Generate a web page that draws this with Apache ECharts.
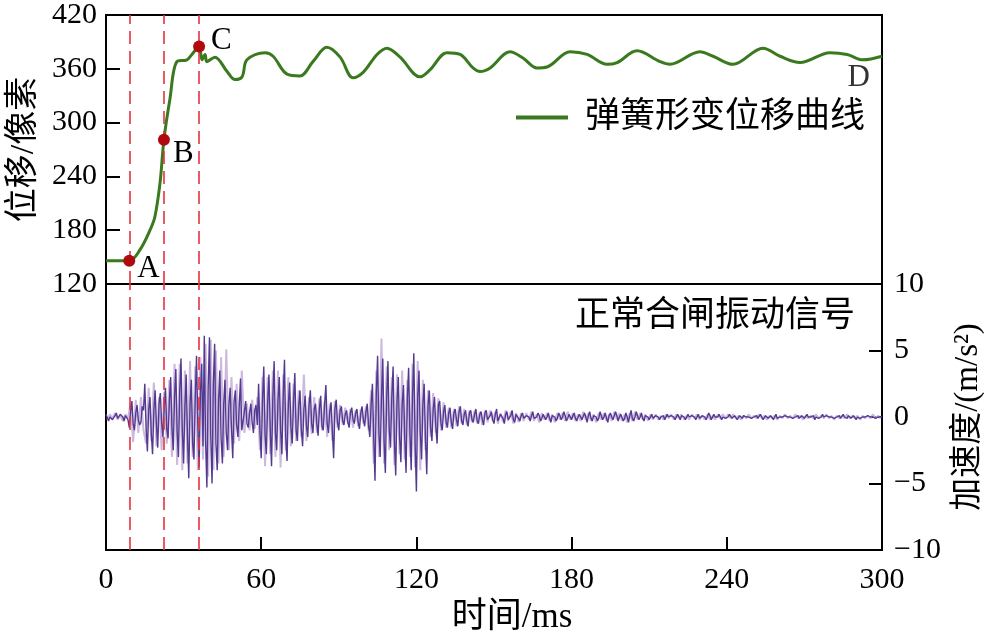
<!DOCTYPE html>
<html>
<head>
<meta charset="utf-8">
<script src="https://cdn.jsdelivr.net/npm/echarts@6/dist/echarts.min.js"></script>
<style>
html,body{margin:0;padding:0;background:#fff;}
#chart{width:988px;height:638px;}
</style>
</head>
<body>
<div id="chart"></div>
<script>
// ---- Displacement curve (top panel) ----
const dispTime = [0, 9, 13.1, 17.0, 18.9, 20.9, 22.4, 24.7, 27.4, 31.3, 33.2, 36.0, 37.1, 38.3, 39.0, 42.1, 46.8, 49.9, 52.6, 54.5,
  61.5, 64.6, 70.0, 75.0, 80.0, 85.4, 90.5, 95.5, 99.4, 104.8, 108.6, 113.7, 121.4, 125.3, 131.8, 136.9, 141.9, 144.6, 148.5,
  156.2, 161.2, 166.6, 170.5, 179.4, 186.0, 193.7, 197.6, 205.3, 214.2, 218.0, 229.6, 234.7, 242.4, 254.0, 260.6, 268.3,
  279.9, 286.5, 292.6, 300];
const dispValue = [146, 146, 158, 180, 195, 233, 281, 326, 368, 370, 376, 385, 370, 376, 368, 373, 357, 348, 351, 370,
  378, 374, 354, 352, 368, 384, 373, 350, 356, 376, 383, 373, 351, 359, 378, 376, 361, 357, 361,
  379, 372, 361, 362, 379, 376, 365, 367, 380, 368, 365, 379, 374, 365, 383, 374, 367,
  378, 376, 370, 374];

// Key points A, B, C and end label D
const markerTime = [9, 22.4, 36];
const markerValue = [146, 281, 385];
const markerLabel = ['A', 'B', 'C'];
const endLabelTime = 291;
const endLabelValue = 350;
const endLabel = 'D';

// ---- Vibration signal (bottom panel) ----
// dark trace, samples at whole milliseconds (t = 0, 1, 2, ...)
const accDarkWhole = [
  0.2,-0.3,0.1,-0.2,0.3,-0.1,0.2,-0.3,0.1,          // 0-8
  -0.8,1.2,-1.0,0.9,-0.6,0.8,                       // 9-14
  2.5,-2.6,1.5,-2.8,2.0,-2.3,1.8,-1.5,              // 15-22
  2.2,-1.6,3.0,-2.5,3.6,-3.0,4.4,-3.5,              // 23-30
  3.2,-4.6,2.8,-3.2,4.6,-3.8,4.0,                   // 31-37
  6.1,-5.3,6.0,-5.0,5.5,-4.0,3.5,-3.5,              // 38-45
  2.8,-2.5,2.2,-3.1,2.0,-1.5,2.9,                   // 46-52
  -1.0,1.2,-0.8,1.0,-1.2,0.9,                       // 53-58
  2.5,-3.1,3.8,-2.8,3.2,-3.7,4.2,                   // 59-65
  -2.5,3.0,-2.8,4.3,-3.3,2.6,-2.0,3.3,              // 66-73
  -1.8,2.0,-2.2,1.6,-1.5,2.0,-1.2,                  // 74-80
  1.0,-1.4,1.6,-1.0,2.4,-1.2,1.1,-3.1,1.3,-1.0,     // 81-90
  0.8,-0.6,0.5,-0.8,0.7,-0.5,0.6,-0.9,0.8,-0.7,1.0, // 91-101
  -1.5,2.5,-4.8,4.6,-3.0,4.4,-4.2,4.2,-2.3,         // 102-110
  3.8,-4.4,3.0,-3.4,2.4,-4.2,3.7,-4.0,4.8,          // 111-119
  -5.6,3.5,-3.2,2.5,-4.3,                           // 120-124
  2.0,-1.8,1.5,-2.0,1.2,-1.0,0.9,                   // 125-131
  -0.8,0.7,-0.9,0.6,-0.7,0.8,-0.6,0.5,-0.7,         // 132-140
  0.5,-0.4,0.6,-0.5,0.4,-0.6,0.5,-0.3,0.4,-0.5,0.6,-0.4,0.3,-0.5,0.4,-0.3,0.5,-0.4,0.3,-0.3, // 141-160
  0.3,-0.2,0.2,-0.3,0.4,-0.2,0.3,-0.3,0.2,-0.2,0.3,-0.4,0.2,-0.3,0.3,-0.2,0.4,-0.3,0.2,-0.2,
  0.3,-0.3,0.2,-0.2,0.3,-0.4,0.4,-0.3,0.2,-0.3,0.4,-0.2,0.3,-0.4,0.3,-0.2,0.4,-0.3,0.2,-0.3, // 161-200
  0.3,-0.4,0.5,-0.3,0.4,-0.2,0.3,-0.3,0.2,-0.2,0.2,-0.1,0.2,-0.2,0.1,-0.2,0.2,-0.1,0.2,-0.2,
  0.2,-0.2,0.1,-0.2,0.2,-0.1,0.1,-0.2,0.2,-0.1,0.2,-0.2,0.3,-0.2,0.2,-0.1,0.2,-0.2,0.1,-0.2, // 201-240
  0.2,-0.1,0.1,-0.2,0.1,-0.1,0.2,-0.1,0.1,-0.2,0.1,-0.1,0.2,-0.2,0.1,-0.1,0.1,-0.2,0.2,-0.1,
  0.1,-0.1,0.2,-0.1,0.1,-0.2,0.1,-0.1,0.1,-0.1,0.2,-0.1,0.1,-0.2,0.1,-0.1,0.2,-0.1,0.1,-0.1,
  0.1,-0.2,0.1,-0.1,0.2,-0.1,0.1,-0.1,0.1,-0.2,0.1,-0.1,0.1,-0.1,0.2,-0.1,0.1,-0.1,0.1,0.0  // 241-300
];
// dark trace, samples at half milliseconds (t = 0.5, 1.5, ...)
const accDarkHalf = [
  0.1,0.0,-0.2,0.1,-0.1,0.2,0.0,0.1,-0.2,           // 0.5-8.5
  0.4,-0.5,0.3,-0.2,-0.4,0.5,                       // 9.5-14.5
  -0.8,0.6,-1.2,0.5,-0.6,1.0,-0.4,0.7,              // 15.5-22.5
  -0.9,1.2,-0.8,1.5,-1.1,1.9,-1.0,0.8,              // 23.5-30.5
  -1.5,1.0,-2.0,1.4,-0.6,1.8,-2.2,                  // 31.5-37.5
  -1.8,2.2,-1.5,2.5,-2.0,1.2,-1.6,1.0,              // 38.5-45.5
  -1.2,0.9,-0.8,1.1,-0.6,0.8,-1.0,                  // 46.5-52.5
  0.4,-0.5,0.3,-0.4,0.5,-0.6,                       // 53.5-58.5
  -1.0,1.2,-1.4,1.1,-0.9,1.5,-1.2,                  // 59.5-65.5
  1.3,-1.0,1.5,-1.6,1.0,-0.8,1.2,-1.0,              // 66.5-73.5
  0.8,-0.9,0.6,-0.7,0.9,-0.5,0.6,                   // 74.5-80.5
  -0.5,0.6,-0.7,0.9,-0.5,0.4,-1.0,0.6,-0.4,0.5,     // 81.5-90.5
  -0.3,0.2,-0.4,0.3,-0.2,0.3,-0.4,0.3,-0.2,0.4,-0.6,// 91.5-101.5
  1.0,-1.6,1.8,-1.2,1.5,-1.8,1.4,-1.0,1.6,          // 102.5-110.5
  -1.8,1.2,-1.5,1.0,-1.6,1.4,-1.2,1.6,-2.0,         // 111.5-119.5
  1.5,-1.2,1.0,-1.6,0.9,                            // 120.5-124.5
  -0.8,0.6,-0.7,0.9,-0.5,0.4,-0.4,                  // 125.5-131.5
  0.3,-0.4,0.3,-0.2,0.4,-0.3,0.2,-0.3,0.3,          // 132.5-140.5
  -0.2,0.2,-0.3,0.2,-0.2,0.3,-0.2,0.1,-0.2,0.2,-0.3,0.2,-0.1,0.2,-0.2,0.1,-0.2,0.2,-0.1,0.1, // 141.5-160.5
  -0.1,0.1,0.0,0.1,-0.1,0.0,0.1,-0.1,0.1,0.0,-0.1,0.1,0.0,-0.1,0.1,0.0,0.1,-0.1,0.0,0.1,
  -0.1,0.0,0.1,-0.1,0.0,0.1,-0.1,0.1,0.0,-0.1,0.1,0.0,-0.1,0.1,0.0,-0.1,0.1,0.0,0.1,-0.1,  // 161.5-200.5
  0.0,0.1,-0.1,0.0,0.1,0.0,-0.1,0.1,0.0,0.0,-0.1,0.1,0.0,0.0,0.1,-0.1,0.0,0.1,0.0,-0.1,
  0.0,0.1,0.0,-0.1,0.0,0.1,0.0,0.0,-0.1,0.1,0.0,0.0,0.1,-0.1,0.0,0.0,0.1,0.0,-0.1,0.0,    // 201.5-240.5
  0.1,0.0,0.0,-0.1,0.0,0.1,0.0,0.0,-0.1,0.0,0.1,0.0,0.0,-0.1,0.0,0.0,0.1,0.0,-0.1,0.0,
  0.0,0.1,0.0,0.0,-0.1,0.0,0.1,0.0,0.0,-0.1,0.0,0.0,0.1,0.0,-0.1,0.0,0.0,0.1,0.0,0.0,
  -0.1,0.0,0.1,0.0,0.0,-0.1,0.0,0.0,0.1,0.0,-0.1,0.0,0.0,0.1,0.0,0.0,-0.1,0.0,0.0      // 241.5-299.5
];
// light (second) trace, samples at t = 0.5, 1.5, ...
const accLight = [
  -0.2,0.2,-0.1,0.3,-0.2,0.1,-0.3,0.2,-0.1,         // 0.5-8.5
  1.0,-1.9,1.3,-1.2,1.5,-1.0,                       // 9.5-14.5
  -2.0,2.2,-1.8,2.6,-2.2,1.5,-2.5,1.9,              // 15.5-22.5
  -2.0,2.8,-3.0,4.0,-3.6,4.0,-4.0,3.5,              // 23.5-30.5
  -3.5,4.2,-3.0,3.8,-4.0,4.5,-3.2,                  // 31.5-37.5
  5.5,-4.5,5.8,-4.0,5.0,-3.5,4.5,-3.0,              // 38.5-45.5
  5.1,-2.5,3.0,-2.0,2.5,-1.8,3.5,                   // 46.5-52.5
  -1.2,1.0,-1.0,1.3,-0.9,1.5,                       // 53.5-58.5
  -2.5,3.0,-3.7,3.0,-2.8,3.5,-3.0,                  // 59.5-65.5
  3.5,-3.8,3.2,-2.5,3.0,-2.2,2.5,-1.8,              // 66.5-73.5
  2.0,-1.5,3.2,-1.8,1.5,-1.3,1.5,                   // 74.5-80.5
  -1.2,1.4,-1.0,1.2,-1.5,1.0,-1.8,1.2,-0.8,0.9,     // 81.5-90.5
  -0.6,0.7,-0.5,0.6,-0.8,0.5,-0.7,0.6,-0.5,0.8,-1.0,// 91.5-101.5
  2.0,-3.5,3.5,-3.0,5.9,-3.5,3.8,-2.5,3.0,          // 102.5-110.5
  -3.6,3.2,-2.8,3.5,-3.2,2.8,-3.0,4.0,-3.8,         // 111.5-119.5
  4.2,-4.0,2.8,-2.5,2.0,                            // 120.5-124.5
  -1.5,1.8,-1.2,1.4,-1.0,1.1,-0.8,                  // 125.5-131.5
  0.7,-0.8,0.6,-0.7,0.8,-0.5,0.6,-0.6,0.5,          // 132.5-140.5
  -0.4,0.5,-0.5,0.4,-0.6,0.5,-0.4,0.5,-0.3,0.4,-0.5,0.3,-0.4,0.5,-0.3,0.4,-0.5,0.3,-0.4,0.3, // 141.5-160.5
  -0.3,0.3,-0.2,0.4,-0.3,0.2,-0.4,0.3,-0.2,0.3,-0.3,0.2,-0.4,0.3,-0.2,0.3,-0.3,0.4,-0.2,0.3,
  -0.3,0.2,-0.3,0.4,-0.2,0.3,-0.3,0.2,-0.4,0.3,-0.2,0.3,-0.3,0.2,-0.3,0.4,-0.2,0.3,-0.3,0.2, // 161.5-200.5
  -0.4,0.3,-0.3,0.4,-0.2,0.3,-0.2,0.2,-0.3,0.2,-0.2,0.2,-0.2,0.1,-0.2,0.2,-0.1,0.2,-0.2,0.2,
  -0.1,0.2,-0.2,0.1,-0.2,0.2,-0.1,0.2,-0.2,0.1,-0.2,0.2,-0.2,0.1,-0.2,0.2,-0.1,0.2,-0.1,0.2, // 201.5-240.5
  -0.1,0.2,-0.1,0.1,-0.2,0.1,-0.1,0.2,-0.1,0.1,-0.1,0.2,-0.1,0.1,-0.2,0.1,-0.1,0.1,-0.2,0.1,
  -0.1,0.2,-0.1,0.1,-0.1,0.2,-0.1,0.1,-0.2,0.1,-0.1,0.1,-0.1,0.2,-0.1,0.1,-0.1,0.2,-0.1,0.1,
  -0.2,0.1,-0.1,0.1,-0.1,0.2,-0.1,0.1,-0.1,0.1,-0.2,0.1,-0.1,0.1,-0.1,0.2,-0.1,0.1,-0.1   // 241.5-299.5
];

// ---- Axis ticks / texts ----
const timeTicks = { min: 0, max: 300, interval: 60 };
const dispTicks = { min: 120, max: 420, interval: 60 };
const accTicks = { min: -10, max: 10, interval: 5 };
const seriesName = '弹簧形变位移曲线';
const panelTitle = '正常合闸振动信号';
const xName = '时间/ms';
const yNameTop = '位移/像素';
const yNameBottom = '加速度/(m/s²)';

const serif = "'Liberation Serif', 'Noto Sans CJK SC', serif";

const chart = echarts.init(document.getElementById('chart'), null, { renderer: 'canvas' });

// merge whole-ms and half-ms samples of the dark trace in time order
const darkData = [];
accDarkWhole.forEach((v, i) => {
  darkData.push([i, v]);
  if (i < accDarkHalf.length) darkData.push([i + 0.5, accDarkHalf[i]]);
});
const lightData = accLight.map((v, i) => [i + 0.5, v]);
const dispData = dispTime.map((t, i) => [t, dispValue[i]]);
const labelOffsets = [[-3, 8], [-2, 14], [1, -6]];
const markerData = markerTime.map((t, i) => ({
  value: [t, markerValue[i]],
  label: { formatter: markerLabel[i], offset: labelOffsets[i] }
}));

const dashed = {
  silent: true,
  symbol: ['none', 'none'],
  label: { show: false },
  emphasis: { disabled: true },
  lineStyle: { color: '#e5323c', type: [13, 7], width: 1.6 },
  data: markerTime.map(t => ({ xAxis: t }))
};

chart.setOption({
  animation: false,
  backgroundColor: '#fff',
  grid: [
    { left: 106, right: 106, top: 15, height: 269, outerBoundsMode: 'none', containLabel: false,
      show: true, borderColor: '#000', borderWidth: 2, backgroundColor: 'transparent' },
    { left: 106, right: 106, top: 284, height: 266, outerBoundsMode: 'none', containLabel: false,
      show: true, borderColor: '#000', borderWidth: 2, backgroundColor: 'transparent' }
  ],
  title: {
    text: panelTitle,
    right: 128, top: 294,
    textStyle: { fontFamily: serif, fontSize: 35, fontWeight: 'normal', color: '#000' }
  },
  legend: {
    data: [{ name: seriesName, icon: 'rect' }],
    right: 118, top: 95,
    itemWidth: 52, itemHeight: 4,
    itemStyle: { color: '#3a7a1e' },
    textStyle: { fontFamily: serif, fontSize: 35, color: '#000', padding: [0, 0, 0, 12] }
  },
  xAxis: [
    { type: 'value', gridIndex: 0, min: timeTicks.min, max: timeTicks.max, interval: timeTicks.interval,
      axisLine: { show: false, onZero: false }, axisTick: { show: false }, axisLabel: { show: false }, splitLine: { show: false } },
    { type: 'value', gridIndex: 1, position: 'bottom', min: timeTicks.min, max: timeTicks.max, interval: timeTicks.interval,
      name: xName, nameLocation: 'middle', nameGap: 50,
      nameTextStyle: { fontFamily: serif, fontSize: 35, color: '#000', padding: [0, 0, 0, 36] },
      axisLine: { show: false, onZero: false },
      axisTick: { show: true, inside: true, length: 13, lineStyle: { color: '#000', width: 2 } },
      axisLabel: { fontFamily: 'Liberation Serif', fontSize: 30, color: '#000', margin: 15 },
      splitLine: { show: false } }
  ],
  yAxis: [
    { type: 'value', gridIndex: 0, position: 'left', min: dispTicks.min, max: dispTicks.max, interval: dispTicks.interval,
      name: yNameTop, nameLocation: 'middle', nameGap: 64, nameRotate: 90,
      nameTextStyle: { fontFamily: serif, fontSize: 34, color: '#000' },
      axisLine: { show: false, onZero: false },
      axisTick: { show: true, inside: true, length: 14, lineStyle: { color: '#000', width: 2 } },
      axisLabel: { fontFamily: 'Liberation Serif', fontSize: 30, color: '#000', margin: 9 },
      splitLine: { show: false } },
    { type: 'value', gridIndex: 1, position: 'right', min: accTicks.min, max: accTicks.max, interval: accTicks.interval,
      name: yNameBottom, nameLocation: 'middle', nameGap: 68, nameRotate: 90,
      nameTextStyle: { fontFamily: serif, fontSize: 33, color: '#000' },
      axisLine: { show: false, onZero: false },
      axisTick: { show: true, inside: true, length: 13, lineStyle: { color: '#000', width: 2 } },
      axisLabel: { fontFamily: 'Liberation Serif', fontSize: 30, color: '#000', margin: 12,
        formatter: v => (v < 0 ? '\u2212' + Math.abs(v) : String(v)) },
      splitLine: { show: false } }
  ],
  series: [
    { name: seriesName, type: 'line', xAxisIndex: 0, yAxisIndex: 0, data: dispData,
      symbol: 'none', smooth: 0.35, lineStyle: { color: '#3a7a1e', width: 3 }, itemStyle: { color: '#3a7a1e' },
      markLine: dashed, z: 3 },
    { name: 'markers', type: 'scatter', xAxisIndex: 0, yAxisIndex: 0, data: markerData,
      symbolSize: 12, itemStyle: { color: '#b00a0e', opacity: 1 },
      label: { show: true, position: 'right', fontFamily: 'Liberation Serif', fontSize: 31, color: '#000' }, z: 5 },
    { name: 'endLabel', type: 'scatter', xAxisIndex: 0, yAxisIndex: 0, data: [[endLabelTime, endLabelValue]],
      symbolSize: 0, itemStyle: { color: 'transparent' },
      label: { show: true, position: 'inside', formatter: endLabel, fontFamily: 'Liberation Serif', fontSize: 31, color: '#000' }, z: 5 },
    { name: 'accLight', type: 'line', xAxisIndex: 1, yAxisIndex: 1, data: lightData,
      symbol: 'none', lineStyle: { color: '#cdb9de', width: 2 }, z: 2 },
    { name: 'accDark', type: 'line', xAxisIndex: 1, yAxisIndex: 1, data: darkData,
      symbol: 'none', lineStyle: { color: '#533a91', width: 1.4 }, markLine: dashed, z: 3 }
  ]
});
</script>
</body>
</html>
